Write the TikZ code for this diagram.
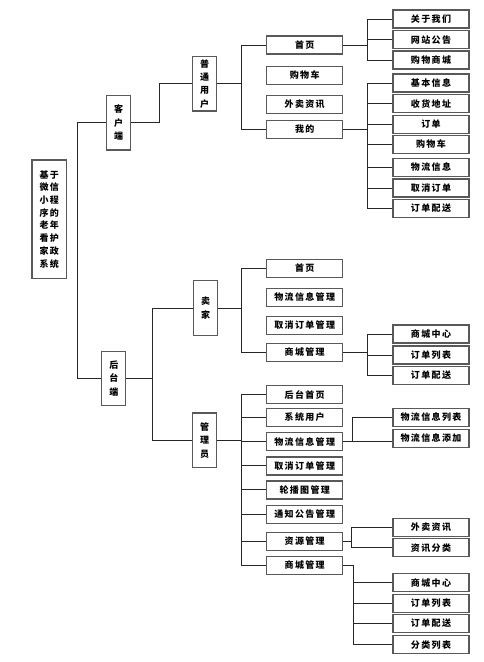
\documentclass[tikz,border=0pt]{standalone}
\usepackage{fontspec}
\newfontfamily\cjk[LetterSpace=15]{Noto Sans CJK SC}
\begin{document}
\begin{tikzpicture}[x=1pt,y=-1pt,
  box/.style={draw=black!65, line width=1.2pt, fill=white, inner sep=0pt,
    minimum width=76pt, minimum height=18pt, font={\cjk\bfseries\fontsize{9}{11}\selectfont}},
  vbox/.style={draw=black!65, line width=1.2pt, fill=white, inner sep=0pt,
    minimum width=24pt, minimum height=54.5pt, align=center,
    font={\cjk\bfseries\fontsize{9}{13.3}\selectfont}},
  rootbox/.style={draw=black!65, line width=1.2pt, fill=white, inner sep=0pt,
    minimum width=34.3pt, minimum height=118.3pt, align=center,
    font={\cjk\bfseries\fontsize{9}{12.7}\selectfont}},
  conn/.style={draw=black!85, line width=0.85pt}]
\useasboundingbox (0,0) rectangle (484,662);

% junction coordinates
\coordinate (t0) at (77.3,0);
\coordinate (b1) at (159,0);
\coordinate (b2) at (152.7,0);
\coordinate (c1) at (241.3,0);
\coordinate (d1) at (367.7,0);
\coordinate (d2) at (352.3,0);
\coordinate (d3) at (351.7,0);
\coordinate (d4) at (353.3,0);

% root and level 1/2
\node[rootbox] (root) at (49.2,219.2) {基于\\微信\\小程\\序的\\老年\\看护\\家政\\系统};
\node[vbox] (khd) at (118.7,122.8) {客\\户\\端};
\node[vbox] (pt) at (204.7,83.8) {普\\通\\用\\户};
\node[vbox] (htd) at (113.8,378.5) {后\\台\\端};
\node[vbox, minimum height=55pt] (sj) at (205.7,308.2) {卖\\家};
\node[vbox] (gly) at (204.5,440.3) {管\\理\\员};

% level 3
\node[box] (u1) at (304.7,45) {首页};
\node[box] (u2) at (304.7,75.2) {购物车};
\node[box] (u3) at (304.7,104.2) {外卖资讯};
\node[box] (u4) at (304.7,129.3) {我的};

\node[box] (s1) at (304.7,268.2) {首页};
\node[box] (s2) at (304.7,297.5) {物流信息管理};
\node[box] (s3) at (304.7,325.5) {取消订单管理};
\node[box] (s4) at (304.7,352.3) {商城管理};

\node[box] (a1) at (304.7,394.7) {后台首页};
\node[box] (a2) at (304.7,417.3) {系统用户};
\node[box] (a3) at (304.7,441.7) {物流信息管理};
\node[box] (a4) at (304.7,465.9) {取消订单管理};
\node[box] (a5) at (304.7,489.9) {轮播图管理};
\node[box] (a6) at (304.7,514.3) {通知公告管理};
\node[box] (a7) at (304.7,541.3) {资源管理};
\node[box] (a8) at (304.7,565.3) {商城管理};

% leaves
\node[box] (h1) at (431,19) {关于我们};
\node[box] (h2) at (431,39.7) {网站公告};
\node[box] (h3) at (431,60) {购物商城};

\node[box] (m1) at (431,83) {基本信息};
\node[box] (m2) at (431,103.7) {收货地址};
\node[box] (m3) at (431,124.2) {订单};
\node[box] (m4) at (431,144.3) {购物车};
\node[box] (m5) at (431,167.3) {物流信息};
\node[box] (m6) at (431,188) {取消订单};
\node[box] (m7) at (431,208.3) {订单配送};

\node[box] (k1) at (431,334) {商城中心};
\node[box] (k2) at (431,355) {订单列表};
\node[box] (k3) at (431,375.3) {订单配送};

\node[box] (w1) at (431,417.3) {物流信息列表};
\node[box] (w2) at (431,438.3) {物流信息添加};

\node[box] (z1) at (431,527.3) {外卖资讯};
\node[box] (z2) at (431,547.7) {资讯分类};

\node[box] (q1) at (431,582.7) {商城中心};
\node[box] (q2) at (431,603.3) {订单列表};
\node[box] (q3) at (431,623.3) {订单配送};
\node[box] (q4) at (431,644.7) {分类列表};

% connectors: trunk
\draw[conn] (khd.west) -- (khd.west -| t0) |- (htd.west);
% 客户端 -> 普通用户
\draw[conn] (khd.east) -- (khd.east -| b1) |- (pt.west);
% 后台端 -> 卖家, 管理员
\draw[conn] (htd.east) -- (htd.east -| b2);
\draw[conn] (sj.west) -| (b2 |- htd.east) |- (gly.west);

% 普通用户 -> level 3
\draw[conn] (pt.east) -- (pt.east -| c1);
\draw[conn] (u1.west) -| (c1 |- u4.west) -- (u4.west);
% 卖家 -> level 3
\draw[conn] (sj.east) -- (sj.east -| c1);
\draw[conn] (s1.west) -| (c1 |- s4.west) -- (s4.west);
% 管理员 -> level 3
\draw[conn] (gly.east) -- (gly.east -| c1);
\draw[conn] (a1.west) -| (c1 |- a8.west) -- (a8.west);
\foreach \n in {a2,a3,a4,a5,a6,a7} \draw[conn] (\n.west) -- (\n.west -| c1);

% 首页 -> leaves
\draw[conn] (u1.east) -- (u1.east -| d1);
\draw[conn] (h1.west) -| (d1 |- h3.west) -- (h3.west);
\draw[conn] (h2.west) -- (h2.west -| d1);
% 我的 -> leaves
\draw[conn] (u4.east) -- (u4.east -| d1);
\draw[conn] (m1.west) -| (d1 |- m7.west) -- (m7.west);
\foreach \n in {m2,m3,m4,m5,m6} \draw[conn] (\n.west) -- (\n.west -| d1);
% 卖家 商城管理 -> leaves
\draw[conn] (s4.east) -- (s4.east -| d1);
\draw[conn] (k1.west) -| (d1 |- k3.west) -- (k3.west);
\draw[conn] (k2.west) -- (k2.west -| d1);
% 物流信息管理 -> leaves
\draw[conn] (a3.east) -- (w2.west |- a3.east);
\draw[conn] (w1.west) -| (d2 |- a3.east);
% 资源管理 -> leaves
\draw[conn] (a7.east) -- (a7.east -| d3);
\draw[conn] (z1.west) -| (d3 |- z2.west) -- (z2.west);
% 商城管理 -> leaves
\draw[conn] (a8.east) -- (a8.east -| d4) |- (q4.west);
\foreach \n in {q1,q2,q3} \draw[conn] (\n.west) -- (\n.west -| d4);
\end{tikzpicture}
\end{document}
